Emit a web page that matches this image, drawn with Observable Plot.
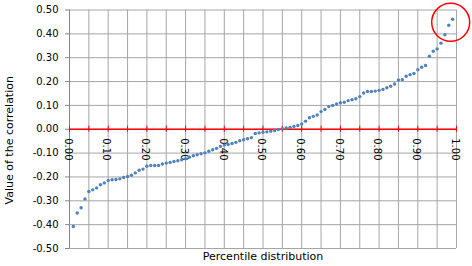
<!DOCTYPE html>
<html><head><meta charset="utf-8">
<script src="https://cdn.jsdelivr.net/npm/d3@7"></script>
<script src="https://cdn.jsdelivr.net/npm/@observablehq/plot@0.6"></script>
<style>body{margin:0;background:#fff} svg{display:block}</style>
</head><body><div id="chart"></div>
<script>
const percentile = [0.01,0.02,0.03,0.04,0.05,0.06,0.07,0.08,0.09,0.10,
  0.11,0.12,0.13,0.14,0.15,0.16,0.17,0.18,0.19,0.20,
  0.21,0.22,0.23,0.24,0.25,0.26,0.27,0.28,0.29,0.30,
  0.31,0.32,0.33,0.34,0.35,0.36,0.37,0.38,0.39,0.40,
  0.41,0.42,0.43,0.44,0.45,0.46,0.47,0.48,0.49,0.50,
  0.51,0.52,0.53,0.54,0.55,0.56,0.57,0.58,0.59,0.60,
  0.61,0.62,0.63,0.64,0.65,0.66,0.67,0.68,0.69,0.70,
  0.71,0.72,0.73,0.74,0.75,0.76,0.77,0.78,0.79,0.80,
  0.81,0.82,0.83,0.84,0.85,0.86,0.87,0.88,0.89,0.90,
  0.91,0.92,0.93,0.94,0.95,0.96,0.97,0.98,0.99];
const correlation = [-0.408,-0.351,-0.329,-0.292,-0.261,-0.254,-0.246,-0.233,-0.225,-0.215,
  -0.212,-0.211,-0.208,-0.202,-0.198,-0.193,-0.183,-0.172,-0.167,-0.155,
  -0.152,-0.152,-0.152,-0.146,-0.142,-0.139,-0.135,-0.132,-0.128,-0.124,
  -0.117,-0.111,-0.107,-0.103,-0.099,-0.092,-0.086,-0.080,-0.072,-0.066,
  -0.064,-0.060,-0.055,-0.048,-0.044,-0.040,-0.035,-0.018,-0.015,-0.013,
  -0.011,-0.008,-0.005,-0.001,0.002,0.005,0.008,0.012,0.016,0.022,
  0.034,0.048,0.054,0.060,0.074,0.083,0.095,0.100,0.106,0.111,
  0.113,0.120,0.124,0.128,0.137,0.152,0.158,0.158,0.160,0.163,
  0.167,0.174,0.180,0.190,0.207,0.208,0.222,0.229,0.234,0.250,
  0.260,0.267,0.306,0.327,0.337,0.361,0.396,0.436,0.461];
const yTicks = [-0.5,-0.4,-0.3,-0.2,-0.1,0,0.1,0.2,0.3,0.4,0.5];
const xLabelTicks = [0,0.1,0.2,0.3,0.4,0.5,0.6,0.7,0.8,0.9,1.0];
const xGridTicks = [0,0.05,0.1,0.15,0.2,0.25,0.3,0.35,0.4,0.45,0.5,0.55,0.6,0.65,0.7,0.75,0.8,0.85,0.9,0.95,1.0];
const xTitle = "Percentile distribution";
const yTitle = "Value of the correlation";

const data = percentile.map((p, i) => ({p, c: correlation[i]}));
const circled = data.slice(-2);
const highlight = [{p: d3.mean(circled, d => d.p), c: d3.mean(circled, d => d.c)}];

const font = "DejaVu Sans";
const chart = Plot.plot({
  width: 472, height: 266,
  marginLeft: 69, marginRight: 16, marginTop: 9.5, marginBottom: 18,
  x: {domain: [0, 1], axis: null},
  y: {domain: [-0.5, 0.5]},
  style: {fontFamily: font, fontSize: "10px", color: "#000", background: "#fff", overflow: "visible"},
  marks: [
    Plot.gridY(yTicks, {stroke: "#a6a6a6", strokeOpacity: 1}),
    Plot.gridX(xGridTicks, {stroke: "#a6a6a6", strokeOpacity: 1}),
    Plot.ruleX([0], {stroke: "#868686"}),
    Plot.axisY(yTicks, {tickFormat: d => d.toFixed(2), tickSize: 4, tickPadding: 7, stroke: "#868686", label: null, fill: "#000"}),
    Plot.ruleY([0], {stroke: "#ff0000", strokeWidth: 1.5}),
    Plot.ruleX(xGridTicks, {x: d => d, y1: () => 0, y2: () => 0, insetTop: -3, insetBottom: -3, stroke: "#ff0000"}),
    Plot.text(xLabelTicks, {x: d => d, y: () => 0, text: d => d.toFixed(2), rotate: 90, textAnchor: "start", dy: 9, dx: -1.5, fill: "#000"}),
    Plot.dot(data, {x: "p", y: "c", r: 1.7, fill: "#4f81bd", stroke: null}),
    Plot.dot(highlight, {x: "p", y: "c", r: 19, fill: "none", stroke: "#ff0000", strokeWidth: 1.5}),
    Plot.text([xTitle], {frameAnchor: "bottom", dy: 11, text: d => d, fontSize: 11, fill: "#000"}),
    Plot.text([yTitle], {frameAnchor: "left", textAnchor: "middle", dx: -60, dy: 11, rotate: -90, text: d => d, fontSize: 11, fill: "#000"})
  ]
});
document.getElementById("chart").appendChild(chart);
</script>
</body></html>
